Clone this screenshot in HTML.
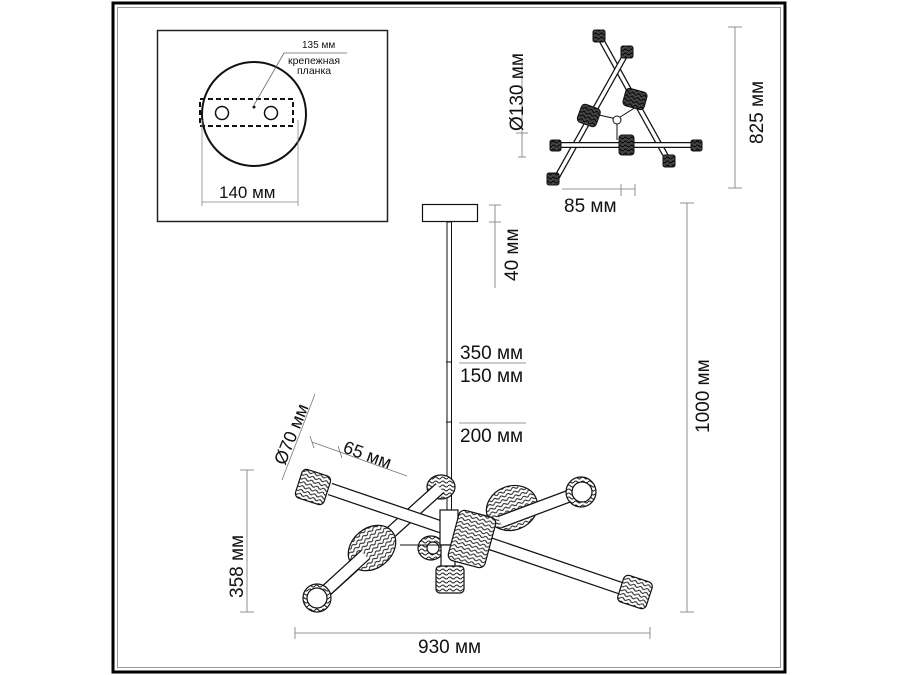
<!DOCTYPE html>
<html><head><meta charset="utf-8"><style>
html,body{margin:0;padding:0;background:#fff;}
svg{display:block;}
text{font-family:"Liberation Sans","DejaVu Sans",sans-serif;fill:#111;}
</style></head><body>
<svg width="900" height="675" viewBox="0 0 900 675" xmlns="http://www.w3.org/2000/svg">
<defs>
<pattern id="wv" width="7" height="4" patternUnits="userSpaceOnUse">
<rect width="7" height="4" fill="#fff"/>
<path d="M0 2 Q1.75 0 3.5 2 T7 2" stroke="#222" stroke-width="1.1" fill="none"/>
</pattern>
<pattern id="dk" width="6" height="4" patternUnits="userSpaceOnUse">
<rect width="6" height="4" fill="#444"/>
<path d="M0 2 Q1.5 0 3 2 T6 2" stroke="#000" stroke-width="1" fill="none"/>
</pattern>
</defs>
<rect x="113" y="3" width="672" height="669" fill="none" stroke="#000" stroke-width="3"/>
<rect x="117.5" y="7.5" width="663" height="660" fill="none" stroke="#999" stroke-width="1"/>

<rect x="157.5" y="30.5" width="230" height="191" fill="none" stroke="#222" stroke-width="1.5"/>
<circle cx="254" cy="114" r="52" fill="none" stroke="#111" stroke-width="2"/>
<rect x="200" y="99" width="93" height="27" fill="none" stroke="#111" stroke-width="2" stroke-dasharray="5,3"/>
<circle cx="222" cy="113" r="6.5" fill="none" stroke="#111" stroke-width="1.5"/>
<circle cx="271" cy="113" r="6.5" fill="none" stroke="#111" stroke-width="1.5"/>
<circle cx="254" cy="107" r="1.5" fill="#111"/>
<polyline points="254,105 284,53 347,53" fill="none" stroke="#666" stroke-width="0.8"/>
<text x="302" y="48" font-size="10">135 мм</text>
<text x="288" y="64" font-size="10.5">крепежная</text>
<text x="297" y="74" font-size="10.5">планка</text>
<line x1="202" y1="120" x2="202" y2="206" stroke="#888" stroke-width="0.8"/>
<line x1="298" y1="120" x2="298" y2="206" stroke="#888" stroke-width="0.8"/>
<line x1="202" y1="202" x2="298" y2="202" stroke="#888" stroke-width="0.8"/>
<text x="219" y="198" font-size="17">140 мм</text>

<g stroke="#111" stroke-width="1" fill="#fff">
<line x1="598" y1="34" x2="667" y2="158" stroke-width="6"/>
<line x1="598" y1="34" x2="667" y2="158" stroke="#fff" stroke-width="3.5"/>
<line x1="627" y1="52" x2="557" y2="177" stroke-width="6"/>
<line x1="627" y1="52" x2="557" y2="177" stroke="#fff" stroke-width="3.5"/>
<line x1="553" y1="145" x2="697" y2="145" stroke-width="6"/>
<line x1="553" y1="145" x2="697" y2="145" stroke="#fff" stroke-width="3.5"/>
<line x1="590" y1="113" x2="617" y2="119"/>
<line x1="617" y1="119" x2="636" y2="107"/>
<line x1="617" y1="119" x2="617" y2="140"/>
<circle cx="617" cy="120" r="4"/>
<rect x="593" y="30" width="12" height="12" rx="2" fill="url(#dk)"/>
<rect x="621" y="46" width="12" height="12" rx="2" fill="url(#dk)"/>
<rect x="579" y="106" width="20" height="19" rx="4" fill="url(#dk)" transform="rotate(20 589 115)"/>
<rect x="624" y="90" width="22" height="18" rx="4" fill="url(#dk)" transform="rotate(15 635 99)"/>
<rect x="619" y="135" width="15" height="20" rx="3" fill="url(#dk)"/>
<rect x="550" y="140" width="11" height="11" rx="2" fill="url(#dk)"/>
<rect x="691" y="140" width="11" height="11" rx="2" fill="url(#dk)"/>
<rect x="663" y="155" width="12" height="12" rx="2" fill="url(#dk)"/>
<rect x="547" y="173" width="12" height="12" rx="2" fill="url(#dk)"/>
</g>
<g stroke="#777" stroke-width="0.8">
<line x1="522" y1="61" x2="522" y2="157"/>
<line x1="516" y1="133" x2="528" y2="133"/>
<line x1="518" y1="157" x2="526" y2="157"/>
<line x1="562" y1="189" x2="635" y2="189"/>
<line x1="621" y1="184" x2="621" y2="196"/>
<line x1="635" y1="184" x2="635" y2="196"/>
<line x1="735" y1="27" x2="735" y2="188"/>
<line x1="728" y1="27" x2="742" y2="27"/>
<line x1="728" y1="188" x2="742" y2="188"/>
</g>
<text x="0" y="0" font-size="19" transform="translate(523,131) rotate(-90)">Ø130 мм</text>
<text x="564" y="212" font-size="19">85 мм</text>
<text x="0" y="0" font-size="19" transform="translate(763,144) rotate(-90)">825 мм</text>

<rect x="422.5" y="204.5" width="55" height="17" fill="#fff" stroke="#111" stroke-width="1.2"/>
<rect x="447" y="222" width="4.5" height="295" fill="#fff" stroke="#111" stroke-width="1"/>
<line x1="446" y1="362" x2="452" y2="362" stroke="#111"/>
<line x1="446" y1="422" x2="452" y2="422" stroke="#111"/>
<g stroke="#777" stroke-width="0.8">
<line x1="495" y1="205" x2="495" y2="288"/>
<line x1="489" y1="205" x2="501" y2="205"/>
<line x1="489" y1="222" x2="501" y2="222"/>
<line x1="459" y1="363" x2="526" y2="363"/>
<line x1="459" y1="423" x2="526" y2="423"/>
<line x1="687" y1="203" x2="687" y2="612"/>
<line x1="680" y1="203" x2="694" y2="203"/>
<line x1="680" y1="612" x2="694" y2="612"/>
<line x1="247" y1="470" x2="247" y2="612"/>
<line x1="240" y1="470" x2="254" y2="470"/>
<line x1="240" y1="612" x2="254" y2="612"/>
<line x1="295" y1="633" x2="650" y2="633"/>
<line x1="295" y1="627" x2="295" y2="639"/>
<line x1="650" y1="627" x2="650" y2="639"/>
<line x1="315" y1="394" x2="282" y2="480"/>
<line x1="312" y1="442" x2="407" y2="476"/>
<line x1="310" y1="436" x2="314" y2="448"/>
<line x1="338" y1="446" x2="342" y2="458"/>
</g>
<text x="0" y="0" font-size="19" transform="translate(518,281) rotate(-90)">40 мм</text>
<text x="460" y="359" font-size="19">350 мм</text>
<text x="460" y="382" font-size="19">150 мм</text>
<text x="460" y="442" font-size="19">200 мм</text>
<text x="0" y="0" font-size="19" transform="translate(709,433) rotate(-90)">1000 мм</text>
<text x="0" y="0" font-size="19" transform="translate(243,598) rotate(-90)">358 мм</text>
<text x="418" y="653" font-size="19">930 мм</text>
<text x="0" y="0" font-size="18" transform="translate(285,466) rotate(-68)">Ø70 мм</text>
<text x="0" y="0" font-size="18" transform="translate(342,452) rotate(20)">65 мм</text>

<g stroke="#111" stroke-width="1.2">
<ellipse cx="441" cy="487" rx="14" ry="12" fill="url(#wv)"/>
<ellipse cx="512" cy="508" rx="26" ry="22" fill="url(#wv)" transform="rotate(-20 512 508)"/>
<line x1="318" y1="598" x2="440" y2="488" stroke-width="13"/>
<line x1="318" y1="598" x2="440" y2="488" stroke="#fff" stroke-width="10.5"/>
<ellipse cx="372" cy="548" rx="26" ry="20" fill="url(#wv)" transform="rotate(-40 372 548)"/>
<line x1="318" y1="598" x2="365" y2="555" stroke-width="13"/>
<line x1="318" y1="598" x2="365" y2="555" stroke="#fff" stroke-width="10.5"/>
<circle cx="317" cy="598" r="14" fill="url(#wv)"/>
<circle cx="317" cy="598" r="10" fill="#fff"/>
<line x1="330" y1="489" x2="626" y2="590" stroke-width="13"/>
<line x1="330" y1="489" x2="626" y2="590" stroke="#fff" stroke-width="10.5"/>
<ellipse cx="431" cy="548" rx="13" ry="12" fill="url(#wv)"/>
<circle cx="433" cy="548" r="6" fill="#fff"/>
<line x1="400" y1="545" x2="445" y2="545" stroke-width="1"/>
<rect x="440" y="510" width="18" height="35" fill="#fff"/>
<rect x="441" y="545" width="14" height="22" fill="#fff"/>
<line x1="580" y1="492" x2="500" y2="522" stroke-width="13"/>
<line x1="580" y1="492" x2="500" y2="522" stroke="#fff" stroke-width="10.5"/>
<circle cx="581" cy="492" r="15" fill="url(#wv)"/>
<circle cx="582" cy="492" r="10" fill="#fff"/>
<rect x="453" y="513" width="38" height="52" rx="6" fill="url(#wv)" transform="rotate(15 472 539)"/>
<rect x="436" y="566" width="28" height="27" rx="4" fill="url(#wv)"/>
<rect x="298" y="472" width="30" height="30" rx="5" fill="url(#wv)" transform="rotate(18 313 487)"/>
<rect x="620" y="578" width="30" height="28" rx="5" fill="url(#wv)" transform="rotate(18 635 592)"/>
</g>
</svg>
</body></html>
